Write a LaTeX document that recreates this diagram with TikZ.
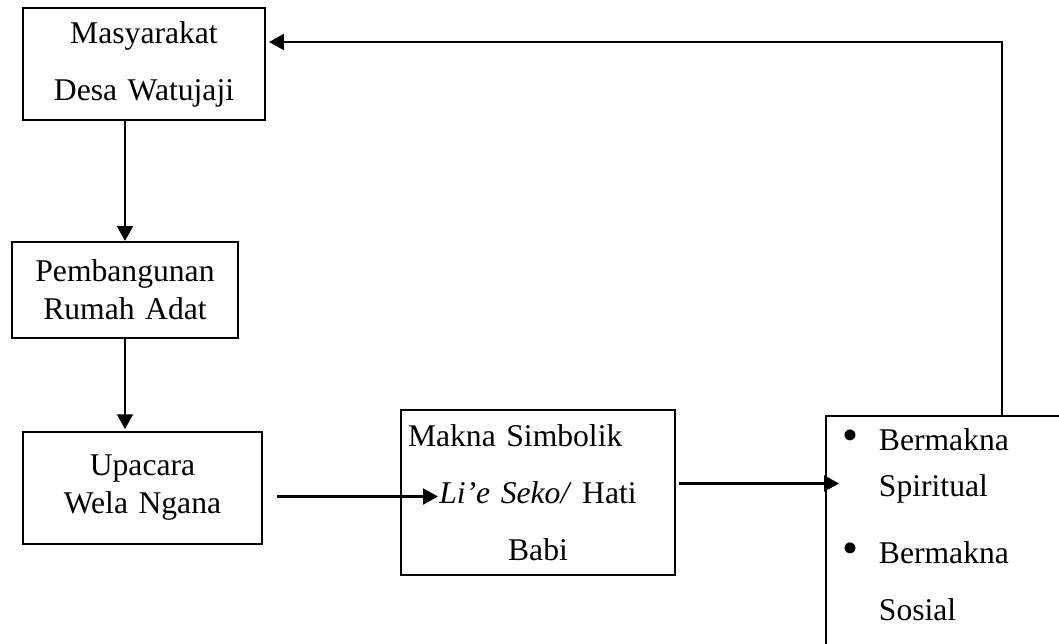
\documentclass[tikz,border=0pt]{standalone}
\usepackage{fontspec}
\setmainfont{Liberation Serif}
\usetikzlibrary{arrows.meta}

\begin{document}
\begin{tikzpicture}[x=0.02cm,y=-0.02cm,
 every node/.style={rectangle,draw=black,line width=1.2pt,inner xsep=0.1cm,inner ysep=0pt,align=center},
 wide/.style={font=\fontsize{18}{32.4}\selectfont},
 tight/.style={font=\fontsize{18}{21.6}\selectfont},
 arr/.style={line width=1.5pt,-{Triangle[length=8.5pt,width=9pt]}}
]
    \useasboundingbox (0,0) rectangle (1059,643);
    \clip (0,0) rectangle (1059,643);
    \node[wide,text width=4.64cm,minimum height=2.24cm] (masyarakat) at (144,64) {Masyarakat\\Desa Watujaji};
    \node[tight,text width=4.32cm,minimum height=1.92cm] (rumah) at (125,290) {Pembangunan\\Rumah Adat};
    \node[tight,text width=4.58cm,minimum height=2.24cm] (upacara) at (142.5,488) {Upacara\\Wela Ngana\\[16pt]};
    \node[wide,text width=5.2cm,minimum height=3.3cm,inner xsep=0.14cm] (makna) at (538,492.5) {Makna Simbolik\hfill\null\\\textit{Li’e Seko/} Hati\\Babi};
    \node[wide,anchor=north west,align=left,text width=8cm,text depth=8cm,inner xsep=0.32cm,inner ysep=0.24cm] (effects) at (825,415)
      {\makebox[21pt][l]{\smash{\fontsize{26}{26}\selectfont\textbullet}}Bermakna\\[-6pt]\hspace*{21pt}Spiritual\\[6pt]\makebox[21pt][l]{\smash{\fontsize{26}{26}\selectfont\textbullet}}Bermakna\\\hspace*{21pt}Sosial};
    \coordinate (turn) at (1002,42);
    \draw[arr] (effects.north -| turn) -- (turn) -- ([xshift=1.7pt]masyarakat.east |- turn);
    \draw[arr] (rumah.north |- masyarakat.south) -- (rumah.north);
    \draw[arr] (rumah.south) -- ([yshift=1pt]rumah.south |- upacara.north);
    \draw[arr] ([shift={(14,8.5)}]upacara.east) -- ++(161,0);
    \draw[arr] ([shift={(3,-9)}]makna.east) -- ++(160,0);
\end{tikzpicture}
\end{document}
